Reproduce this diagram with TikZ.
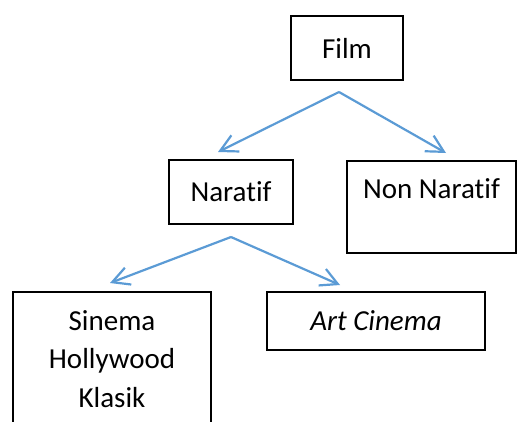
\documentclass[tikz,border=0pt]{standalone}
\usepackage{fontspec}
\setmainfont{Carlito}[Ligatures=NoCommon]
\usetikzlibrary{arrows.meta}
\definecolor{arrowblue}{HTML}{5B9BD5}
\begin{document}
\begin{tikzpicture}[x=1pt,y=-1pt,
  box/.style={draw=black,line width=1.6pt,inner sep=0pt,font=\fontsize{29}{38.5}\selectfont},
  conn/.style={draw=arrowblue,line width=2.2pt,-{Straight Barb[length=17pt,width=18pt]}}]
\useasboundingbox (0,0) rectangle (518,421);
\clip (0,0) rectangle (518,421);
\node[box,minimum width=112pt,minimum height=64pt] (film) at (347,48) {Film};
\node[box,minimum width=124pt,minimum height=64pt] (nar) at (231,192) {Naratif};
\node[box,minimum width=169pt,text height=38pt,text depth=54pt,anchor=north] (non) at (431.5,160) {Non Naratif};
\node[box,minimum width=198pt,minimum height=134pt,align=center] (shk) at (112,359) {Sinema\\Hollywood\\Klasik};
\node[box,minimum width=218pt,minimum height=58pt] (art) at (376,321) {\textit{Art Cinema}};
\coordinate (a1) at (339,92);
\coordinate (t1) at (218,152);
\coordinate (t2) at (446,153);
\coordinate (a2) at (231,237);
\coordinate (t3) at (110,283);
\coordinate (t4) at (340,285);
\draw[conn] (a1) -- (t1);
\draw[conn] (a1) -- (t2);
\draw[conn] (a2) -- (t3);
\draw[conn] (a2) -- (t4);
\end{tikzpicture}
\end{document}
